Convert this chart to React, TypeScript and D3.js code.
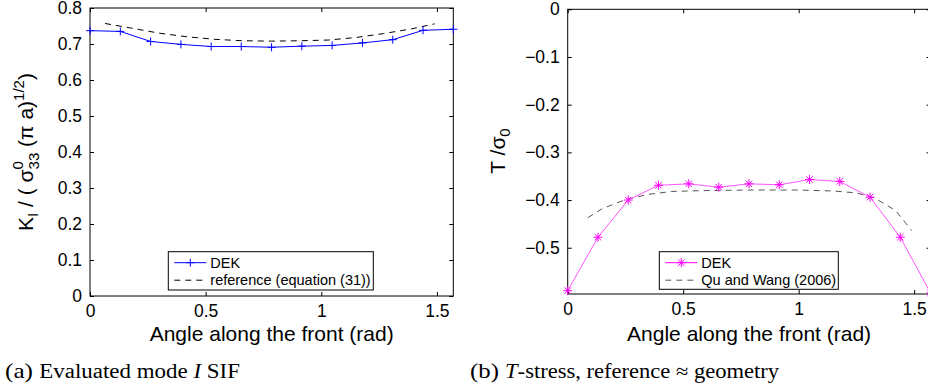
import * as d3 from "d3";
import { useEffect, useRef } from "react";

// angles (rad) of the DEK evaluation points along the front
const angles = [0, 0.131, 0.262, 0.393, 0.524, 0.654, 0.785, 0.916, 1.047, 1.178, 1.309, 1.44, 1.571];

// (a) mode I SIF
const kDek = [0.737, 0.735, 0.707, 0.699, 0.693, 0.693, 0.691, 0.694, 0.696, 0.703, 0.712, 0.738, 0.741];
const kRefAngles = [0.065, 0.18, 0.3, 0.42, 0.54, 0.66, 0.785, 0.91, 1.03, 1.15, 1.27, 1.39, 1.49];
const kRef = [0.757, 0.744, 0.73, 0.72, 0.713, 0.709, 0.708, 0.709, 0.711, 0.718, 0.729, 0.742, 0.756];

// (b) T-stress
const tDek = [-0.59, -0.478, -0.4, -0.369, -0.366, -0.373, -0.366, -0.368, -0.357, -0.361, -0.394, -0.478, -0.595];
const quAngles = [0.087, 0.15, 0.25, 0.35, 0.45, 0.6, 0.8, 1.0, 1.15, 1.25, 1.33, 1.42, 1.489];
const quT = [-0.437, -0.418, -0.399, -0.388, -0.382, -0.38, -0.379, -0.379, -0.381, -0.385, -0.396, -0.422, -0.464];

const xTicks = [0, 0.5, 1, 1.5];
const kTicks = [0, 0.1, 0.2, 0.3, 0.4, 0.5, 0.6, 0.7, 0.8];
const tTicks = [0, -0.1, -0.2, -0.3, -0.4, -0.5];

const legendA = ["DEK", "reference (equation (31))"];
const legendB = ["DEK", "Qu and Wang (2006)"];

const SANS = "'Liberation Sans', Arial, Helvetica, sans-serif";
const SERIF = "'Liberation Serif', 'Times New Roman', serif";

const fmt = (d: number) => String(d).replace("-", "\u2212");

const plusPath = "M-4,0H4M0,-4V4";
const starPath = "M-4.5,0H4.5M0,-4.5V4.5M-3.2,-3.2L3.2,3.2M-3.2,3.2L3.2,-3.2";

function drawAxes(g: any, x: any, y: any, yTicks: number[]) {
  const [x0, x1] = x.range();
  const [y0, y1] = y.range();

  const style = (sel: any) => {
    sel.select(".domain").remove();
    sel.selectAll("line").attr("stroke", "#000").attr("stroke-width", 1);
    sel.selectAll("text").attr("fill", "#000").attr("font-family", SANS).attr("font-size", 17.5);
  };

  g.append("g")
    .attr("transform", `translate(0,${y0})`)
    .call(d3.axisBottom(x).tickValues(xTicks).tickSizeInner(-4).tickSizeOuter(0).tickPadding(9).tickFormat(fmt))
    .call(style);
  g.append("g")
    .attr("transform", `translate(0,${y1})`)
    .call(d3.axisTop(x).tickValues(xTicks).tickSizeInner(-4).tickSizeOuter(0).tickFormat(() => ""))
    .call(style);
  g.append("g")
    .attr("transform", `translate(${x0},0)`)
    .call(d3.axisLeft(y).tickValues(yTicks).tickSizeInner(-4).tickSizeOuter(0).tickPadding(8).tickFormat(fmt))
    .call(style);
  g.append("g")
    .attr("transform", `translate(${x1},0)`)
    .call(d3.axisRight(y).tickValues(yTicks).tickSizeInner(-4).tickSizeOuter(0).tickFormat(() => ""))
    .call(style);

  g.append("rect")
    .attr("x", x0).attr("y", y1)
    .attr("width", x1 - x0).attr("height", y0 - y1)
    .attr("fill", "none").attr("stroke", "#000").attr("stroke-width", 1);

  g.append("text")
    .attr("x", (x0 + x1) / 2).attr("y", 341)
    .attr("text-anchor", "middle")
    .attr("font-family", SANS).attr("font-size", 21)
    .text("Angle along the front (rad)");
}

function drawLegend(g: any, box: number[], labels: string[], color: string, marker: string, dashColor: string) {
  const [bx, by, bw, bh] = box;
  g.append("rect")
    .attr("x", bx).attr("y", by).attr("width", bw).attr("height", bh)
    .attr("fill", "#fff").attr("stroke", "#000").attr("stroke-width", 1);
  const lx0 = bx + 6, lx1 = bx + 38;
  const rows = [by + 11, by + 28.5];
  g.append("line")
    .attr("x1", lx0).attr("x2", lx1).attr("y1", rows[0]).attr("y2", rows[0])
    .attr("stroke", color).attr("stroke-width", 1);
  g.append("path")
    .attr("d", marker).attr("transform", `translate(${(lx0 + lx1) / 2},${rows[0]})`)
    .attr("stroke", color).attr("fill", "none");
  g.append("line")
    .attr("x1", lx0).attr("x2", lx1).attr("y1", rows[1]).attr("y2", rows[1])
    .attr("stroke", dashColor).attr("stroke-width", 1).attr("stroke-dasharray", "6,5");
  labels.forEach((t, i) => {
    g.append("text")
      .attr("x", lx1 + 4).attr("y", rows[i] + 5)
      .attr("font-family", SANS).attr("font-size", 14.5)
      .text(t);
  });
}

export default function App() {
  const ref = useRef<SVGSVGElement>(null);

  useEffect(() => {
    const svg = d3.select(ref.current);
    svg.selectAll("*").remove();

    // ---------- (a) ----------
    const xa = d3.scaleLinear().domain([0, Math.PI / 2]).range([90, 453.3]);
    const ya = d3.scaleLinear().domain([0, 0.8]).range([296, 8]);
    const ga = svg.append("g");
    drawAxes(ga, xa, ya, kTicks);

    const lineA = d3.line<[number, number]>().x(d => xa(d[0])).y(d => ya(d[1]));
    ga.append("path")
      .datum(kRefAngles.map((a, i) => [a, kRef[i]] as [number, number]))
      .attr("d", lineA)
      .attr("fill", "none").attr("stroke", "#000").attr("stroke-width", 1)
      .attr("stroke-dasharray", "6,5");
    const dekA = angles.map((a, i) => [a, kDek[i]] as [number, number]);
    ga.append("path")
      .datum(dekA)
      .attr("d", lineA)
      .attr("fill", "none").attr("stroke", "#0000ff").attr("stroke-width", 1);
    ga.selectAll(".mk")
      .data(dekA)
      .join("path")
      .attr("d", plusPath)
      .attr("transform", d => `translate(${xa(d[0])},${ya(d[1])})`)
      .attr("stroke", "#0000ff").attr("fill", "none");

    drawLegend(ga, [168.3, 251.7, 205, 38.3], legendA, "#0000ff", plusPath, "#000");

    // y label (a)
    const yl = ga.append("text")
      .attr("transform", "translate(33,152) rotate(-90)")
      .attr("text-anchor", "middle")
      .attr("font-family", SANS).attr("font-size", 21);
    yl.append("tspan").text("K");
    yl.append("tspan").attr("dy", 5).attr("font-size", 15).text("I");
    yl.append("tspan").attr("dy", -5).text(" / ( \u03c3");
    yl.append("tspan").attr("dy", -10).attr("font-size", 15).text("0");
    yl.append("tspan").attr("dx", -8.3).attr("dy", 16).attr("font-size", 15).text("33");
    yl.append("tspan").attr("dy", -6).text(" (\u03c0 a)");
    yl.append("tspan").attr("dy", -9).attr("font-size", 15).text("1/2");
    yl.append("tspan").attr("dy", 9).text(")");

    // ---------- (b) ----------
    const xb = d3.scaleLinear().domain([0, Math.PI / 2]).range([567.7, 930.5]);
    const yb = d3.scaleLinear().domain([-0.597, 0]).range([294, 9.3]);
    const gb = svg.append("g");
    drawAxes(gb, xb, yb, tTicks);

    const lineB = d3.line<[number, number]>().x(d => xb(d[0])).y(d => yb(d[1]));
    gb.append("path")
      .datum(quAngles.map((a, i) => [a, quT[i]] as [number, number]))
      .attr("d", lineB)
      .attr("fill", "none").attr("stroke", "#555").attr("stroke-width", 1)
      .attr("stroke-dasharray", "6,5");
    const dekB = angles.map((a, i) => [a, tDek[i]] as [number, number]);
    gb.append("path")
      .datum(dekB)
      .attr("d", lineB)
      .attr("fill", "none").attr("stroke", "#ff55ff").attr("stroke-width", 1);
    gb.selectAll(".mk")
      .data(dekB)
      .join("path")
      .attr("d", starPath)
      .attr("transform", d => `translate(${xb(d[0])},${yb(d[1])})`)
      .attr("stroke", "#ff00ff").attr("fill", "none");

    drawLegend(gb, [659.3, 251.7, 179, 37.6], legendB, "#ff00ff", starPath, "#555");

    const yr = gb.append("text")
      .attr("transform", "translate(505,151) rotate(-90)")
      .attr("text-anchor", "middle")
      .attr("font-family", SANS).attr("font-size", 21);
    yr.append("tspan").text("T /\u03c3");
    yr.append("tspan").attr("dy", 5).attr("font-size", 15).text("0");

    // ---------- captions ----------
    const ca = svg.append("text")
      .attr("x", 5).attr("y", 378)
      .attr("font-family", SERIF).attr("font-size", 20)
      .attr("textLength", 235).attr("lengthAdjust", "spacingAndGlyphs");
    ca.append("tspan").attr("font-size", 22).text("(a) ");
    ca.append("tspan").text("Evaluated mode ");
    ca.append("tspan").attr("font-style", "italic").text("I");
    ca.append("tspan").text(" SIF");

    const cb = svg.append("text")
      .attr("x", 470).attr("y", 378)
      .attr("font-family", SERIF).attr("font-size", 20)
      .attr("textLength", 309).attr("lengthAdjust", "spacingAndGlyphs");
    cb.append("tspan").attr("font-size", 22).text("(b) ");
    cb.append("tspan").attr("font-style", "italic").text("T");
    cb.append("tspan").text("-stress, reference \u2248 geometry");
  }, []);

  return (
    <svg
      ref={ref}
      width={928}
      height={387}
      style={{ position: "absolute", left: 0, top: 0, background: "#fff" }}
    />
  );
}
